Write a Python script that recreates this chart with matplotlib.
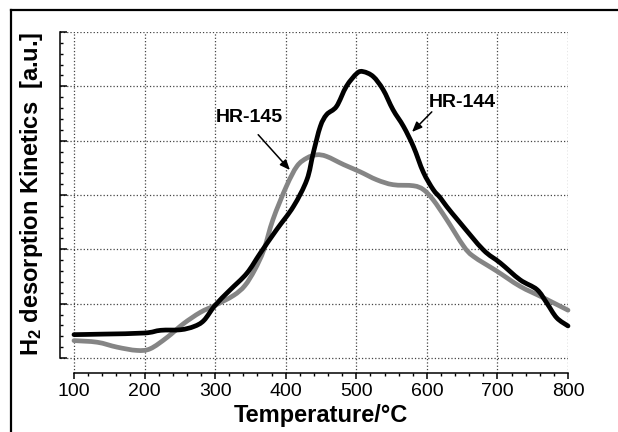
import matplotlib
matplotlib.use("Agg")
import matplotlib.pyplot as plt
from matplotlib.lines import Line2D
from matplotlib.path import Path
from matplotlib.patches import PathPatch
from matplotlib.ticker import FixedLocator

plt.rcParams['font.family'] = ['Liberation Sans', 'DejaVu Sans']
plt.rcParams['mathtext.fontset'] = 'custom'
plt.rcParams['mathtext.rm'] = 'Liberation Sans'
plt.rcParams['mathtext.bf'] = 'Liberation Sans:bold'

# HR-144 (black curve)
temp_144 = [100, 142, 200, 223, 251, 270, 284, 300, 321, 345, 364, 387, 411, 430,
            439, 449, 458, 472, 486, 501, 510, 524, 538, 552, 567, 581, 595, 609,
            619, 628, 647, 680, 704, 732, 756, 770, 784, 800]
kin_144 = [0.43, 0.44, 0.46, 0.51, 0.52, 0.58, 0.69, 0.97, 1.25, 1.56, 1.93, 2.36,
           2.79, 3.28, 3.77, 4.26, 4.48, 4.63, 5.00, 5.24, 5.27, 5.18, 4.94, 4.57,
           4.26, 3.89, 3.42, 3.10, 2.95, 2.79, 2.49, 1.99, 1.75, 1.44, 1.26, 1.01,
           0.74, 0.59]

# HR-145 (grey curve)
temp_145 = [100, 133, 161, 189, 208, 232, 255, 279, 300, 326, 342, 356, 369, 382,
            401, 416, 430, 444, 458, 482, 505, 529, 552, 581, 595, 609, 628, 652,
            666, 699, 732, 765, 800]
kin_145 = [0.32, 0.29, 0.20, 0.14, 0.17, 0.38, 0.63, 0.84, 0.97, 1.15, 1.33, 1.62,
           1.99, 2.55, 3.16, 3.53, 3.68, 3.74, 3.71, 3.56, 3.43, 3.28, 3.19, 3.17,
           3.10, 2.91, 2.55, 2.06, 1.87, 1.60, 1.32, 1.11, 0.88]

x_ticks = [100, 200, 300, 400, 500, 600, 700, 800]
x_minor = list(range(100, 801, 20))
y_major = [0, 1, 2, 3, 4, 5, 6]
y_minor = [i / 5 for i in range(0, 31)]


def smooth_path(xs, ys):
    """Excel-style smoothed line: Bezier segments through the given points."""
    pts = list(zip(xs, ys))
    verts = [pts[0]]
    codes = [Path.MOVETO]
    n = len(pts)
    for i in range(n - 1):
        p0 = pts[max(i - 1, 0)]
        p1 = pts[i]
        p2 = pts[i + 1]
        p3 = pts[min(i + 2, n - 1)]
        c1 = (p1[0] + (p2[0] - p0[0]) / 6, p1[1] + (p2[1] - p0[1]) / 6)
        c2 = (p2[0] - (p3[0] - p1[0]) / 6, p2[1] - (p3[1] - p1[1]) / 6)
        verts += [c1, c2, p2]
        codes += [Path.CURVE4] * 3
    return Path(verts, codes)


fig = plt.figure(figsize=(6.18, 4.32), dpi=100)
ax = fig.add_axes([60 / 618, 1 - 373 / 432, 508 / 618, 341 / 432])

# curves
for xs, ys, col, z in [(temp_145, kin_145, '#858585', 3), (temp_144, kin_144, 'black', 4)]:
    ax.add_patch(PathPatch(smooth_path(xs, ys), fill=False, edgecolor=col, lw=3.4,
                           capstyle='round', joinstyle='round', clip_on=False, zorder=z))

# axes limits & spines
ax.set_xlim(80.2, 800)
ax.set_ylim(-0.276, 6)
ax.spines['top'].set_visible(False)
ax.spines['right'].set_visible(False)
ax.spines['left'].set_bounds(0, 6)
ax.spines['bottom'].set_bounds(100, 800)
ax.spines['left'].set_linewidth(1.1)
ax.spines['bottom'].set_linewidth(1.1)

ax.set_xticks(x_ticks)
ax.xaxis.set_minor_locator(FixedLocator(x_minor))
ax.set_yticks(y_major)
ax.yaxis.set_minor_locator(FixedLocator(y_minor))
ax.set_yticklabels([])
ax.tick_params(axis='x', which='major', direction='out', length=4, width=1.1,
               labelsize=14, pad=3)
ax.tick_params(axis='x', which='minor', direction='out', length=2.5, width=1)
ax.tick_params(axis='y', which='major', direction='in', length=5, width=1.1)
ax.tick_params(axis='y', which='minor', direction='in', length=2.5, width=1)

ax.set_axisbelow(True)
ax.grid(True, which='major', color='#444444', linestyle=':', linewidth=0.9)

# labels
ax.set_xlabel('Temperature/°C', fontsize=17, fontweight='bold')
ax.xaxis.set_label_coords(0.514, -0.092)
ax.set_ylabel(r'$\mathbf{H_2}$ desorption Kinetics  [a.u.]', fontsize=17,
              fontweight='bold')
ax.yaxis.set_label_coords(-0.03, 0.525)

# annotations
ax.text(349, 4.42, 'HR-145', fontsize=14, fontweight='bold', ha='center', va='center')
ax.annotate('', xy=(406, 3.46), xytext=(361, 4.11),
            arrowprops=dict(arrowstyle='-|>,head_length=0.6,head_width=0.25',
                            color='black', lw=1.1, shrinkA=0, shrinkB=0))
ax.text(650, 4.70, 'HR-144', fontsize=14, fontweight='bold', ha='center', va='center')
ax.annotate('', xy=(579, 4.16), xytext=(607, 4.53),
            arrowprops=dict(arrowstyle='-|>,head_length=0.6,head_width=0.25',
                            color='black', lw=1.1, shrinkA=0, shrinkB=0))

# outer frame (left and top only)
fig.add_artist(Line2D([11 / 618, 11 / 618], [0, 1 - 10 / 432],
                      transform=fig.transFigure, color='black', lw=1.6))
fig.add_artist(Line2D([11 / 618, 1], [1 - 10 / 432, 1 - 10 / 432],
                      transform=fig.transFigure, color='black', lw=1.6))

fig.savefig('out.png', dpi=100)
